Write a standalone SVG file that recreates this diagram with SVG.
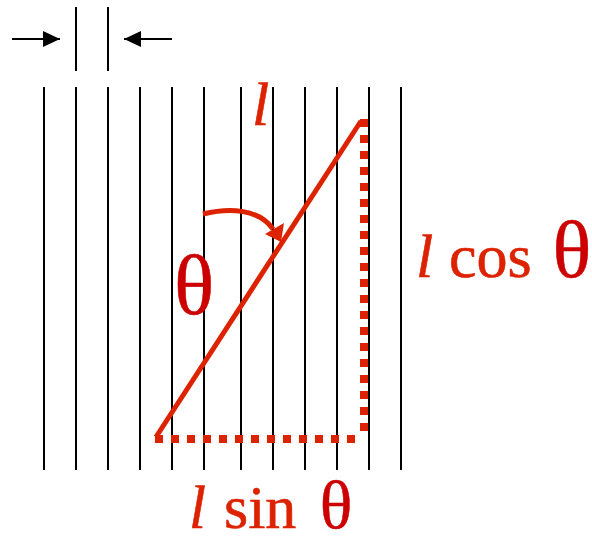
<svg xmlns="http://www.w3.org/2000/svg" width="592" height="537" viewBox="0 0 592 537">
<style>
.grid line{stroke:#000;stroke-width:2}
.red{stroke:#dd2200;fill:none}
.t{font-family:"Liberation Serif","Times New Roman",serif;fill:#dd2200;stroke:#dd2200;stroke-width:0.6}
.th{font-family:"Liberation Serif","Times New Roman",serif;fill:#cc0000;stroke:#cc0000;stroke-width:0.5;text-anchor:middle}
.it{font-style:italic}
</style>
<defs>
<marker id="ah" markerWidth="17" markerHeight="16" refX="17" refY="8" orient="auto" markerUnits="userSpaceOnUse" viewBox="0 0 17 16">
<path d="M0,0 L17,8 L0,16 Z" fill="#000"/>
</marker>
</defs>
<g id="grid" class="grid">
<line x1="44" y1="87" x2="44" y2="470"/>
<line x1="76" y1="87" x2="76" y2="470"/>
<line x1="108" y1="87" x2="108" y2="470"/>
<line x1="140" y1="87" x2="140" y2="470"/>
<line x1="172" y1="87" x2="172" y2="470"/>
<line x1="204" y1="87" x2="204" y2="470"/>
<line x1="241" y1="87" x2="241" y2="470"/>
<line x1="273" y1="87" x2="273" y2="470"/>
<line x1="305" y1="87" x2="305" y2="470"/>
<line x1="337" y1="87" x2="337" y2="470"/>
<line x1="369" y1="87" x2="369" y2="470"/>
<line x1="401" y1="87" x2="401" y2="470"/>
</g>
<g id="spacing" class="grid">
<line x1="76" y1="7" x2="76" y2="71"/>
<line x1="108" y1="7" x2="108" y2="71"/>
</g>
<g id="connectors">
<line x1="12" y1="39" x2="60" y2="39" stroke="#000" stroke-width="2" marker-end="url(#ah)"/>
<line x1="172" y1="39" x2="124" y2="39" stroke="#000" stroke-width="2" marker-end="url(#ah)"/>
<line class="red" x1="156" y1="437" x2="361" y2="121" stroke-width="5"/>
<line class="red" x1="155" y1="439" x2="356" y2="439" stroke-width="8" stroke-dasharray="8 8"/>
<line class="red" x1="364" y1="119" x2="364" y2="431" stroke-width="8" stroke-dasharray="8 8"/>
<path class="red" d="M203,214 C228,208 258,208 273,229" stroke-width="5"/>
<polygon points="281,242 265,234 284,223" fill="#dd2200"/>
</g>
<g id="labels">
<text class="t it" x="252" y="125" font-size="62">l</text>
<text class="th" x="194" y="314" font-size="84">θ</text>
<text class="t it" x="416" y="277" font-size="62">l</text>
<text class="t" x="449" y="277" font-size="62">cos</text>
<text class="th" x="572" y="277" font-size="81">θ</text>
<text class="t it" x="189" y="528" font-size="61">l</text>
<text class="t" x="224" y="528" font-size="62">sin</text>
<text class="th" x="336" y="528" font-size="68">θ</text>
</g>
</svg>
